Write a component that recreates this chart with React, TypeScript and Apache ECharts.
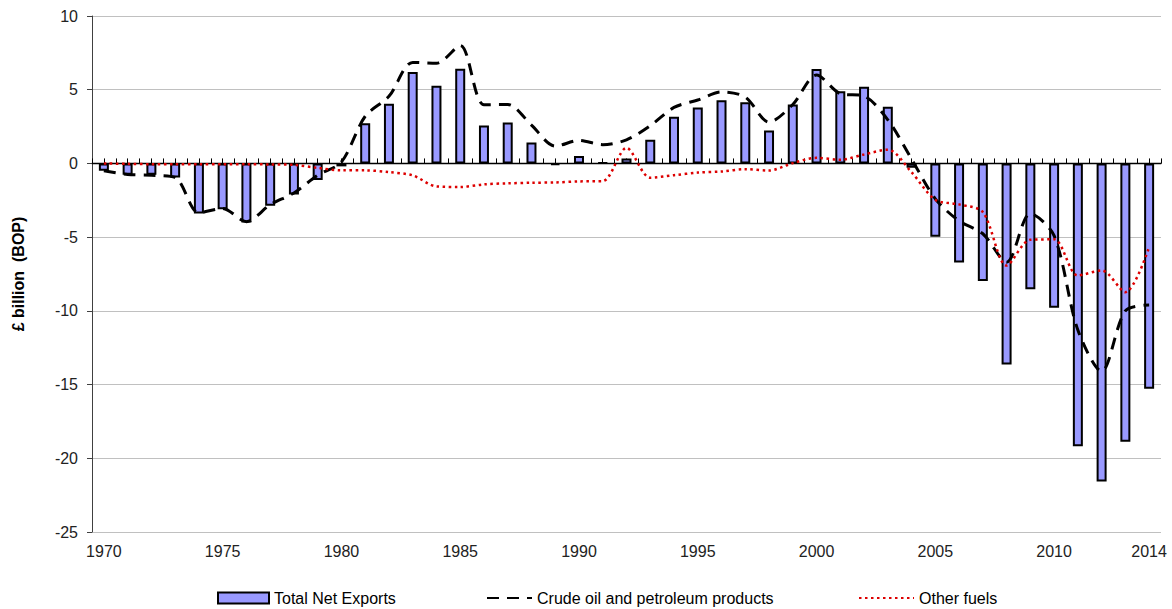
import React, { useEffect, useRef } from "react";
import * as echarts from "echarts";

const years: string[] = [];
for (let y = 1970; y <= 2014; y++) years.push(String(y));

const totalNetExports = [
  -0.5, -0.77, -0.77, -0.95, -3.4, -3.1, -4.0, -2.87, -2.1, -1.12,
  -0.2, 2.73, 4.05, 6.2, 5.27, 6.42, 2.58, 2.78, 1.42, -0.1,
  0.5, 0.05, 0.33, 1.6, 3.16, 3.8, 4.29, 4.15, 2.24, 4.0,
  6.4, 4.9, 5.2, 3.85, -0.3, -4.97, -6.72, -7.98, -13.64, -8.53,
  -9.79, -19.18, -21.57, -18.88, -15.29,
];

const crudeOil = [
  -0.5, -0.75, -0.8, -0.95, -3.35, -3.05, -3.95, -2.8, -2.0, -0.8,
  0.1, 3.2, 4.55, 6.85, 6.8, 8.0, 3.98, 4.0, 2.6, 1.17,
  1.56, 1.27, 1.6, 2.56, 3.8, 4.3, 4.85, 4.5, 2.8, 4.0,
  6.0, 4.73, 4.57, 2.96, 0.3, -2.4, -3.9, -4.77, -6.7, -3.4,
  -4.9, -11.3, -14.1, -10.0, -9.6,
];

const otherFuels = [
  0, -0.03, -0.05, -0.05, -0.05, -0.05, -0.05, -0.07, -0.1, -0.3,
  -0.47, -0.47, -0.59, -0.81, -1.56, -1.6, -1.42, -1.35, -1.31, -1.29,
  -1.22, -1.2, 1.05, -0.97, -0.8, -0.62, -0.55, -0.39, -0.48, 0.02,
  0.38, 0.25, 0.61, 0.93, -0.6, -2.47, -2.78, -3.3, -6.92, -5.18,
  -5.15, -7.6, -7.26, -8.73, -5.68,
];

const yMin = -25;
const yMax = 10;
const yStep = 5;

const seriesNames = [
  "Total Net Exports",
  "Crude oil and petroleum products",
  "Other fuels",
];

export default function App() {
  const ref = useRef<HTMLDivElement>(null);
  useEffect(() => {
    if (!ref.current) return;
    const chart = echarts.init(ref.current, null, { renderer: "svg" });
    const font = "'Liberation Sans', Arial, sans-serif";
    const legendText = { fontSize: 16, color: "#000", fontFamily: font };
    const hiddenSymbol = { opacity: 0, color: "transparent", borderWidth: 0 };
    chart.setOption({
      animation: false,
      backgroundColor: "#fff",
      textStyle: { fontFamily: font },
      grid: { left: 92, right: 11, top: 16, bottom: 77, containLabel: false },
      legend: [
        {
          data: [seriesNames[0]],
          left: 212,
          top: 585,
          icon: "rect",
          itemWidth: 51,
          itemHeight: 11,
          textStyle: legendText,
        },
        {
          data: [seriesNames[1]],
          left: 481,
          top: 585,
          itemWidth: 45,
          itemHeight: 11,
          itemStyle: hiddenSymbol,
          textStyle: legendText,
        },
        {
          data: [seriesNames[2]],
          left: 853,
          top: 585,
          itemWidth: 55,
          itemHeight: 11,
          itemStyle: hiddenSymbol,
          textStyle: legendText,
        },
      ],
      xAxis: [
        {
          type: "category",
          data: years,
          position: "bottom",
          axisLine: { show: false, onZero: false },
          axisTick: { show: false },
          axisLabel: {
            interval: (i: number) => i % 5 === 0 || i === years.length - 1,
            fontSize: 16,
            color: "#222",
            margin: 11,
          },
          splitLine: { show: false },
        },
        {
          type: "value",
          min: 0,
          max: years.length,
          interval: 0.5,
          position: "bottom",
          axisLine: { show: true, onZero: true, lineStyle: { color: "#000", width: 1.3 } },
          axisTick: { show: true, inside: true, length: 5, lineStyle: { color: "#000", width: 1 } },
          axisLabel: { show: false },
          splitLine: { show: false },
        },
      ],
      yAxis: {
        type: "value",
        min: yMin,
        max: yMax,
        interval: yStep,
        name: "£ billion  (BOP)",
        nameLocation: "middle",
        nameGap: 66,
        nameTextStyle: { fontSize: 16, fontWeight: "bold", color: "#000" },
        axisLine: { show: true, onZero: false, lineStyle: { color: "#404040", width: 1 } },
        axisTick: { show: true, inside: false, length: 5, lineStyle: { color: "#404040" } },
        axisLabel: { fontSize: 16, color: "#222", margin: 14 },
        splitLine: { show: true, lineStyle: { color: "#c0c0c0", width: 1 } },
      },
      series: [
        {
          name: seriesNames[0],
          type: "bar",
          data: totalNetExports,
          barWidth: 10,
          itemStyle: { color: "#9999ff", borderColor: "#000", borderWidth: 2 },
        },
        {
          name: seriesNames[1],
          type: "line",
          data: crudeOil,
          smooth: 0.3,
          symbol: "none",
          lineStyle: { color: "#000", width: 3, type: [12, 8] },
          itemStyle: { color: "#000" },
        },
        {
          name: seriesNames[2],
          type: "line",
          data: otherFuels,
          smooth: 0.3,
          symbol: "none",
          lineStyle: { color: "#dd0000", width: 2.5, type: [2.5, 3.5] },
          itemStyle: { color: "#dd0000" },
        },
      ],
    });
    return () => chart.dispose();
  }, []);
  return (
    <div
      ref={ref}
      style={{ position: "fixed", left: 0, top: 0, width: 1172, height: 609, background: "#fff" }}
    />
  );
}
